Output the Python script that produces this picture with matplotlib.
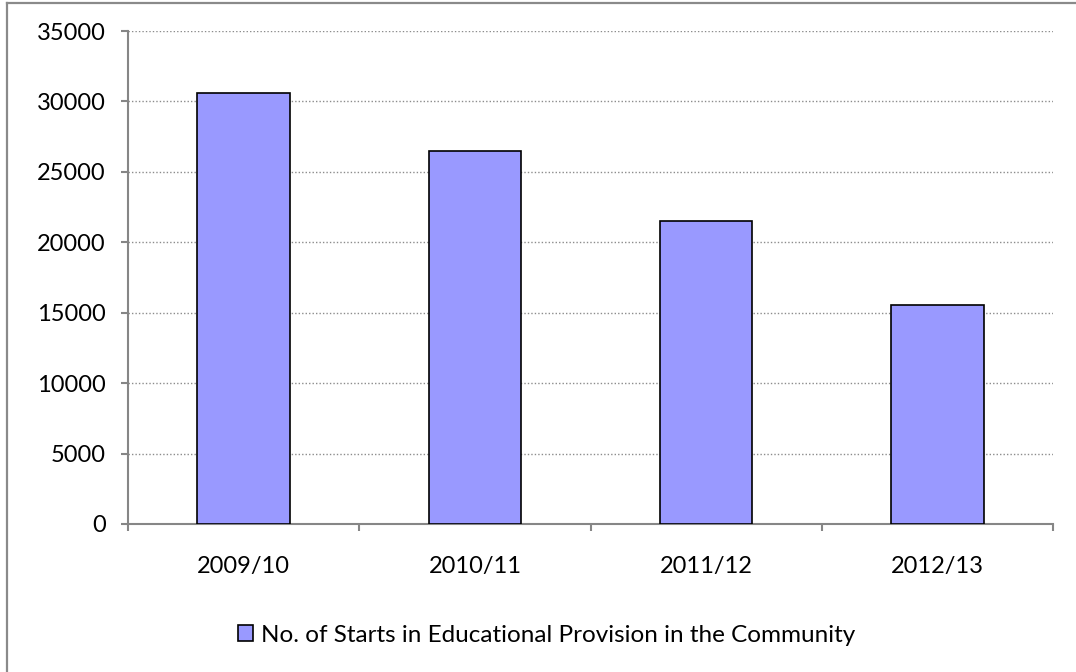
import matplotlib
matplotlib.use("Agg")
import matplotlib.pyplot as plt
from matplotlib.lines import Line2D
from matplotlib.ticker import MultipleLocator, FixedLocator

years = ["2009/10", "2010/11", "2011/12", "2012/13"]
starts = [30600, 26500, 21500, 15550]
series_name = "No. of Starts in Educational Provision in the Community"

plt.rcParams["font.family"] = ["Lato", "DejaVu Sans"]

fig = plt.figure(figsize=(10.76, 6.72), dpi=100)
ax = fig.add_axes([128 / 1076, 1 - 524 / 672, (1053 - 128) / 1076, (524 - 31) / 672])

x = list(range(len(years)))
ax.bar(x, starts, width=0.4, color="#9999FF", edgecolor="black",
       linewidth=1.2, label=series_name, zorder=3)

ax.set_xlim(-0.5, len(years) - 0.5)
ax.set_ylim(0, 35000)
ax.yaxis.set_major_locator(MultipleLocator(5000))
ax.grid(axis="y", linestyle=(0, (1, 1.5)), color="#8c8c8c", linewidth=1.0, zorder=0)

ax.set_xticks(x)
ax.set_xticklabels(years)
ax.xaxis.set_minor_locator(FixedLocator([i - 0.5 for i in range(len(years) + 1)]))
ax.tick_params(axis="x", which="major", length=0, pad=23, labelsize=17, colors="black")
ax.tick_params(axis="x", which="minor", length=5, width=1.5, color="#868686", direction="out")
ax.tick_params(axis="y", length=5, width=1.5, color="#868686", pad=11, labelsize=17)

for s in ("top", "right"):
    ax.spines[s].set_visible(False)
for s in ("left", "bottom"):
    ax.spines[s].set_color("#868686")
    ax.spines[s].set_linewidth(1.5)

# outer chart-area border
fig.add_artist(Line2D([7 / 1076, 7 / 1076], [0, 1 - 3 / 672], color="#8a8a8a",
                      linewidth=1.6, transform=fig.transFigure))
fig.add_artist(Line2D([7 / 1076, 1], [1 - 3 / 672, 1 - 3 / 672], color="#8a8a8a",
                      linewidth=1.6, transform=fig.transFigure))

fig.legend(loc="center", bbox_to_anchor=(0.508, 1 - 635 / 672), frameon=False,
           fontsize=17.5, handlelength=0.6, handleheight=0.6, handletextpad=0.35)

fig.savefig("out.png", dpi=100)
